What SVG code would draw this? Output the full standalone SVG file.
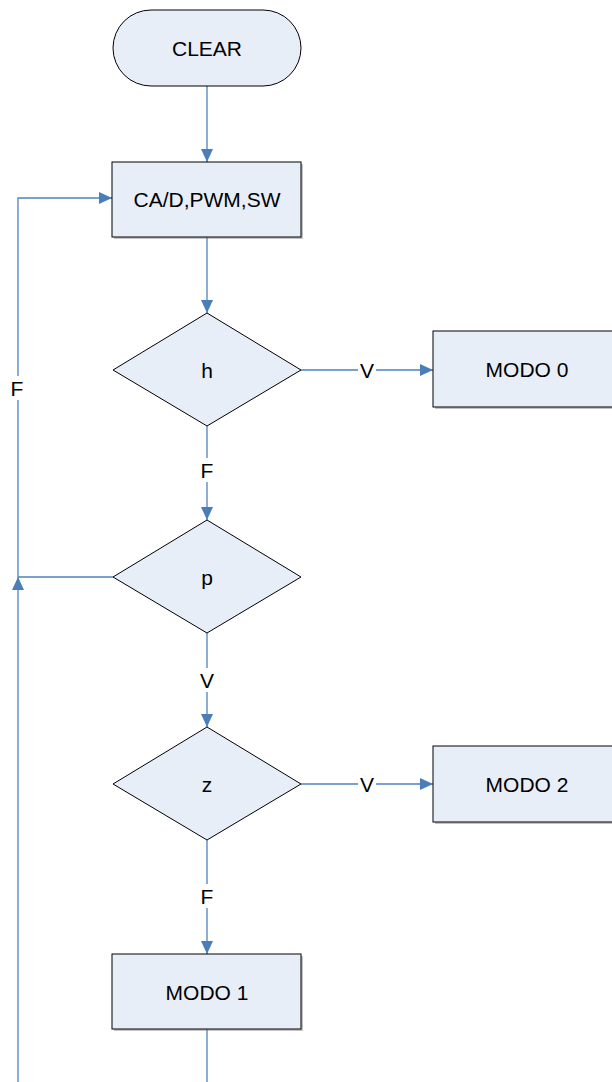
<svg xmlns="http://www.w3.org/2000/svg" width="612" height="1082" viewBox="0 0 612 1082">
<defs>
<style>
.shape{fill:#E8EEF8;stroke:#000;stroke-width:1}
.shadow{fill:#888;opacity:0.5}
.t{font-family:"Liberation Sans",Arial,sans-serif;font-size:21px;fill:#000;text-anchor:middle;dominant-baseline:central}
.c{fill:none;stroke:#4F81BD;stroke-width:1.3}
.lb{fill:#fff}
</style>
<marker id="ah" viewBox="0 0 13 12" refX="13" refY="6" markerWidth="13" markerHeight="12" markerUnits="userSpaceOnUse" orient="auto">
<path d="M0,0 L13,6 L0,12 Z" fill="#4A7EBB"/>
</marker>
</defs>
<g id="connectors">
<path class="c" d="M207,86 V162" marker-end="url(#ah)"/>
<path class="c" d="M207,237 V313" marker-end="url(#ah)"/>
<path class="c" d="M301,370 H433" marker-end="url(#ah)"/>
<path class="c" d="M207,426 V520" marker-end="url(#ah)"/>
<path class="c" d="M207,633 V727" marker-end="url(#ah)"/>
<path class="c" d="M301,784 H433" marker-end="url(#ah)"/>
<path class="c" d="M207,840 V954" marker-end="url(#ah)"/>
<path class="c" d="M207,1029 V1082"/>
<path class="c" d="M113,577 H18"/>
<path class="c" d="M18,1082 V577" marker-end="url(#ah)"/>
<path class="c" d="M18,577 V198 H112" marker-end="url(#ah)"/>
<rect class="lb" x="358" y="358" width="18" height="24"/>
<text class="t" x="367" y="370">V</text>
<rect class="lb" x="198" y="458" width="18" height="24"/>
<text class="t" x="207" y="470">F</text>
<rect class="lb" x="198" y="668" width="18" height="24"/>
<text class="t" x="207" y="680">V</text>
<rect class="lb" x="358" y="772" width="18" height="24"/>
<text class="t" x="367" y="784">V</text>
<rect class="lb" x="198" y="884" width="18" height="24"/>
<text class="t" x="207" y="896">F</text>
<rect class="lb" x="8" y="376" width="18" height="24"/>
<text class="t" x="17" y="388">F</text>
</g>
<g id="clear">
<rect class="shape" x="113" y="10" width="188" height="76" rx="38" ry="38"/>
<text class="t" x="207" y="48">CLEAR</text>
</g>
<g id="init">
<rect class="shadow" x="114" y="164" width="189" height="75"/>
<rect class="shape" x="112" y="162" width="189" height="75"/>
<text class="t" x="207" y="199">CA/D,PWM,SW</text>
</g>
<g id="h">
<polygon class="shape" points="207,313 301,370 207,426 113,370"/>
<text class="t" x="207" y="370">h</text>
</g>
<g id="modo0">
<rect class="shadow" x="435" y="333" width="180" height="76"/>
<rect class="shape" x="433" y="331" width="182" height="76"/>
<text class="t" x="527" y="369">MODO 0</text>
</g>
<g id="p">
<polygon class="shape" points="207,520 301,577 207,633 113,577"/>
<text class="t" x="207" y="577">p</text>
</g>
<g id="z">
<polygon class="shape" points="207,727 301,784 207,840 113,784"/>
<text class="t" x="207" y="784">z</text>
</g>
<g id="modo2">
<rect class="shadow" x="435" y="748" width="180" height="76"/>
<rect class="shape" x="433" y="746" width="182" height="76"/>
<text class="t" x="527" y="784">MODO 2</text>
</g>
<g id="modo1">
<rect class="shadow" x="114" y="956" width="189" height="75"/>
<rect class="shape" x="112" y="954" width="189" height="75"/>
<text class="t" x="207" y="992">MODO 1</text>
</g>
</svg>
